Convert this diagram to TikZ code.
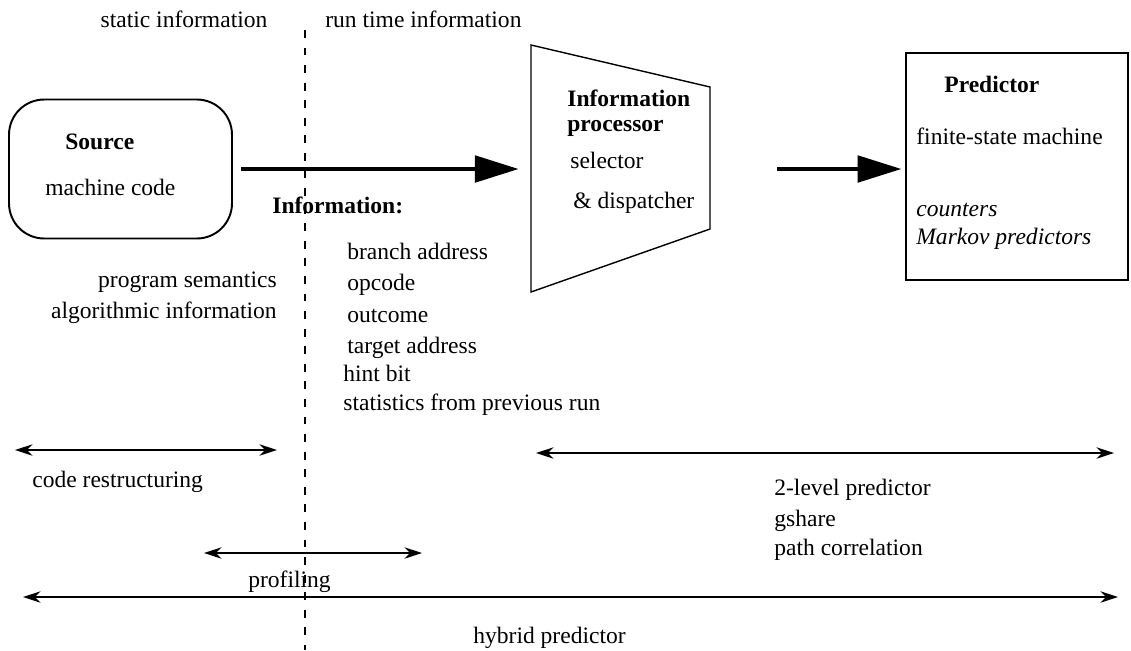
\documentclass[tikz,border=0pt]{standalone}
\usepackage{fontspec}
\setmainfont{Liberation Serif}
\usetikzlibrary{arrows.meta}

\begin{document}
\begin{tikzpicture}[x=0.02cm,y=-0.02cm,>={Stealth[length=10pt,width=6.5pt]},
  every node/.style={font=\fontsize{13.4}{16}\selectfont,inner sep=0pt},
  lbl/.style={anchor=base west},
  rlbl/.style={anchor=base east},
  span/.style={<->,line width=0.85pt},
  bigarrow/.style={-{Triangle[length=25pt,width=15pt]},line width=2.5pt}]
\useasboundingbox (0,0) rectangle (1131,650);
% static / run time split
\node[anchor=base] (stat) at (184,27) {static information};
\node[lbl] (run) at (325,27) {run time information};
\coordinate (divtop) at (305,30);
\coordinate (divbot) at (305,650);
\draw[dash pattern=on 4.5pt off 5.5pt,line width=0.6pt] (divtop) -- (divbot);
% source
\node[draw,rounded corners=20pt,minimum width=4.46cm,minimum height=2.78cm,line width=1.1pt] (src) at (120.5,169) {};
\node[lbl,font=\fontsize{13.4}{16}\selectfont\bfseries] (srct) at (65,149) {Source};
\node[lbl] (mc) at (45,195) {machine code};
\node[rlbl] (sem) at (277,287) {program semantics};
\node[rlbl] (alg) at (277,318) {algorithmic information};
% information list
\node[lbl,font=\fontsize{13.4}{16}\selectfont\bfseries] (info) at (272,213) {Information:};
\node[lbl] (ba) at (347,259) {branch address};
\node[lbl] (op) at (347,290) {opcode};
\node[lbl] (oc) at (347,322) {outcome};
\node[lbl] (ta) at (347,353) {target address};
\node[lbl] (hb) at (343,381) {hint bit};
\node[lbl] (st) at (343,410) {statistics from previous run};
% information processor
\coordinate (procNW) at (531,45);
\coordinate (procNE) at (710,87);
\coordinate (procSE) at (710,229);
\coordinate (procSW) at (531,292);
\draw[line width=0.8pt] (procNW) -- (procNE) -- (procSE) -- (procSW) -- cycle;
\node[lbl,font=\fontsize{13.4}{16}\selectfont\bfseries] (ip1) at (567,106) {Information};
\node[lbl,font=\fontsize{13.4}{16}\selectfont\bfseries] (ip2) at (567,131) {processor};
\node[lbl] (sel) at (570,168) {selector};
\node[lbl] (disp) at (573,208) {\& dispatcher};
% predictor
\node[draw,minimum width=4.44cm,minimum height=4.54cm,line width=1.2pt] (pred) at (1017,166.5) {};
\node[lbl,font=\fontsize{13.4}{16}\selectfont\bfseries] (predt) at (944,92) {Predictor};
\node[lbl] (fsm) at (916,144) {finite-state machine};
\node[lbl,font=\fontsize{13.4}{16}\selectfont\itshape] (cnt) at (916,216) {counters};
\node[lbl,font=\fontsize{13.4}{16}\selectfont\itshape] (mkv) at (916,244) {Markov predictors};
% main flow
\coordinate (procin) at (531,169);
\coordinate (procout) at (777,169);
\draw[bigarrow,shorten <=4.5pt,shorten >=7pt] (src.east) -- (procin);
\draw[bigarrow,shorten >=2pt] (procout) -- (procout -| pred.west);
% ranges
\coordinate (crL) at (15,450);
\coordinate (crR) at (277,450);
\coordinate (tlL) at (536,453);
\coordinate (tlR) at (1114,453);
\coordinate (prL) at (204,553);
\coordinate (prR) at (422,553);
\coordinate (hyL) at (23,597);
\coordinate (hyR) at (1118,597);
\draw[span] (crL) -- (crR);
\draw[span] (tlL) -- (tlR);
\draw[span] (prL) -- (prR);
\draw[span] (hyL) -- (hyR);
\node[lbl] (cr) at (32,487) {code restructuring};
\node[lbl] (tl) at (774,495) {2-level predictor};
\node[lbl] (gs) at (774,526) {gshare};
\node[lbl] (pc) at (774,555) {path correlation};
\node[lbl] (prof) at (248,587) {profiling};
\node[lbl] (hy) at (473,643) {hybrid predictor};
\end{tikzpicture}
\end{document}
